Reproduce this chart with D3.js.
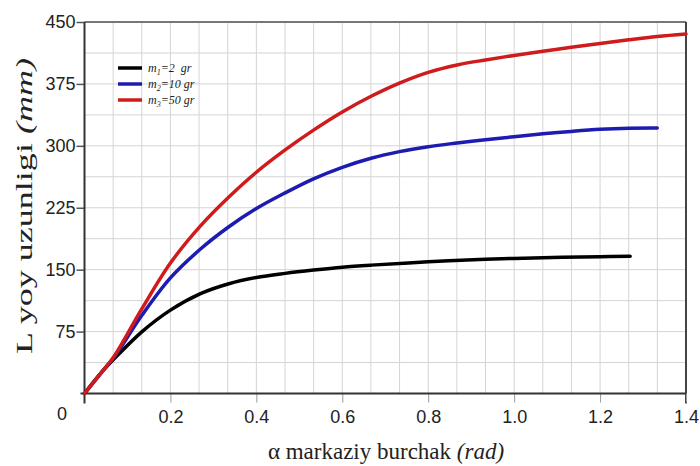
<!DOCTYPE html>
<html>
<head>
<meta charset="utf-8">
<script src="https://cdn.jsdelivr.net/npm/d3@7"></script>
<style>
  body { margin: 0; background: #fff; }
  svg { display: block; }
</style>
</head>
<body>
<div id="chart"></div>
<script>
// alpha (rad) values at which each curve was read
const alpha1 = [0, 0.042, 0.069, 0.134, 0.2, 0.27, 0.336, 0.4, 0.467, 0.533, 0.6, 0.667, 0.8, 0.933, 1.067, 1.2, 1.27];
const m1 = [0, 27, 42, 75, 101, 121, 133, 140.5, 145.5, 149.5, 153, 155.5, 159.5, 162.5, 164.5, 165.7, 166.3];

const alpha2 = [0, 0.042, 0.069, 0.134, 0.2, 0.27, 0.336, 0.4, 0.467, 0.533, 0.6, 0.667, 0.733, 0.8, 0.867, 0.933, 1.0, 1.067, 1.133, 1.2, 1.267, 1.333];
const m2 = [0, 27, 44, 95, 140, 175, 202, 224, 243, 260, 274, 285, 293, 299, 303.5, 307.5, 311, 314.5, 317.5, 320, 321.3, 321.5];

const alpha3 = [0, 0.042, 0.069, 0.134, 0.2, 0.27, 0.336, 0.4, 0.467, 0.533, 0.6, 0.667, 0.733, 0.8, 0.867, 0.933, 1.0, 1.067, 1.133, 1.2, 1.267, 1.333, 1.4];
const m3 = [0, 27, 45, 103, 158, 203, 238, 268, 295, 319, 341, 360, 376, 389, 398, 404, 409.5, 414.5, 419.5, 424, 428.5, 432.5, 435.5];

const xTicks = [0.2, 0.4, 0.6, 0.8, 1.0, 1.2, 1.4];
const yTicks = [75, 150, 225, 300, 375, 450];

const series = [
  { name: "1", val: "2  gr", xs: alpha1, ys: m1, color: "#000000" },
  { name: "2", val: "10 gr", xs: alpha2, ys: m2, color: "#1c1cb0" },
  { name: "3", val: "50 gr", xs: alpha3, ys: m3, color: "#cf1b1b" }
];

const width = 700, height = 466;
const svg = d3.select("#chart").append("svg")
  .attr("width", width)
  .attr("height", height);

const x = d3.scaleLinear().domain([0, 1.4]).range([84.5, 686]);
const y = d3.scaleLinear().domain([0, 450]).range([393.5, 22]);

// grid: 3 cells per x tick, 2 cells per y tick
const grid = svg.append("g").attr("stroke", "#d4d4d4").attr("stroke-width", 1);
grid.selectAll(".gx")
  .data(d3.range(1, 21).map(i => i * 1.4 / 21))
  .enter().append("line")
  .attr("x1", d => x(d)).attr("x2", d => x(d))
  .attr("y1", y(0)).attr("y2", y(450));
grid.selectAll(".gy")
  .data(d3.range(1, 12).map(i => i * 37.5))
  .enter().append("line")
  .attr("x1", x(0)).attr("x2", x(1.4))
  .attr("y1", d => y(d)).attr("y2", d => y(d));

// frame top/right
svg.append("line")
  .attr("x1", x(0)).attr("x2", x(1.4)).attr("y1", y(450)).attr("y2", y(450))
  .attr("stroke", "#777").attr("stroke-width", 2);
svg.append("line")
  .attr("x1", x(1.4)).attr("x2", x(1.4)).attr("y1", y(450)).attr("y2", y(0) + 10)
  .attr("stroke", "#444").attr("stroke-width", 2);

// x axis
const xAxis = svg.append("g")
  .attr("transform", `translate(0,${y(0)})`)
  .call(d3.axisBottom(x).tickValues(xTicks).tickSize(9).tickSizeOuter(0)
    .tickFormat(d3.format(".1f")));
xAxis.select(".domain").remove();
xAxis.selectAll(".tick line").attr("stroke", "#999").attr("stroke-width", 1);
xAxis.selectAll(".tick text")
  .attr("font-family", "Liberation Sans, Arial, sans-serif")
  .attr("font-size", 18).attr("fill", "#222").attr("dy", "0.95em");

// y axis
const yAxis = svg.append("g")
  .attr("transform", `translate(${x(0)},0)`)
  .call(d3.axisLeft(y).tickValues(yTicks).tickSize(8).tickSizeOuter(0));
yAxis.select(".domain").remove();
yAxis.selectAll(".tick line").attr("stroke", "#555").attr("stroke-width", 1.5);
yAxis.selectAll(".tick text")
  .attr("font-family", "Liberation Sans, Arial, sans-serif")
  .attr("font-size", 18).attr("fill", "#222").attr("x", -9);

// axis lines
svg.append("line")
  .attr("x1", x(0) - 4).attr("x2", x(1.4)).attr("y1", y(0)).attr("y2", y(0))
  .attr("stroke", "#333").attr("stroke-width", 2);
svg.append("line")
  .attr("x1", x(0)).attr("x2", x(0)).attr("y1", y(450)).attr("y2", y(0) + 10)
  .attr("stroke", "#333").attr("stroke-width", 2);

svg.append("text")
  .attr("x", 62).attr("y", 420)
  .attr("text-anchor", "middle")
  .attr("font-family", "Liberation Sans, Arial, sans-serif")
  .attr("font-size", 18).attr("fill", "#222")
  .text("0");

// curves
const line = d3.line()
  .x(d => x(d[0]))
  .y(d => y(d[1]))
  .curve(d3.curveCatmullRom.alpha(0.5));

svg.append("g").selectAll("path")
  .data(series)
  .enter().append("path")
  .attr("d", s => line(s.xs.map((a, i) => [a, s.ys[i]])))
  .attr("fill", "none")
  .attr("stroke", s => s.color)
  .attr("stroke-width", 3.5)
  .attr("stroke-linecap", "round");

// legend
const legend = svg.append("g").attr("transform", "translate(118,68)");
const item = legend.selectAll("g")
  .data(series)
  .enter().append("g")
  .attr("transform", (d, i) => `translate(0,${i * 16})`);
item.append("line")
  .attr("x1", 0).attr("x2", 24).attr("y1", 0).attr("y2", 0)
  .attr("stroke", d => d.color).attr("stroke-width", 3.5);
const lt = item.append("text")
  .attr("x", 30).attr("y", 4)
  .attr("font-family", "Liberation Serif, Times New Roman, serif")
  .attr("font-style", "italic")
  .attr("font-size", 12).attr("fill", "#222");
lt.append("tspan").text("m");
lt.append("tspan").attr("font-size", 8).attr("dy", 3).text(d => d.name);
lt.append("tspan").attr("dy", -3).attr("xml:space", "preserve").text(d => "=" + d.val);

// axis titles
const yt = svg.append("text")
  .attr("transform", "translate(32,206) rotate(-90)")
  .attr("text-anchor", "middle")
  .attr("font-family", "Liberation Serif, Times New Roman, serif")
  .attr("font-size", 24).attr("fill", "#222")
  .attr("textLength", 296).attr("lengthAdjust", "spacingAndGlyphs");
yt.append("tspan").text("L yoy uzunligi  ");
yt.append("tspan").attr("font-style", "italic").text("(mm)");

const xt = svg.append("text")
  .attr("x", 386).attr("y", 459)
  .attr("text-anchor", "middle")
  .attr("font-family", "Liberation Serif, Times New Roman, serif")
  .attr("font-size", 23).attr("fill", "#222");
xt.append("tspan").text("α markaziy burchak  ");
xt.append("tspan").attr("font-style", "italic").text("(rad)");
</script>
</body>
</html>
